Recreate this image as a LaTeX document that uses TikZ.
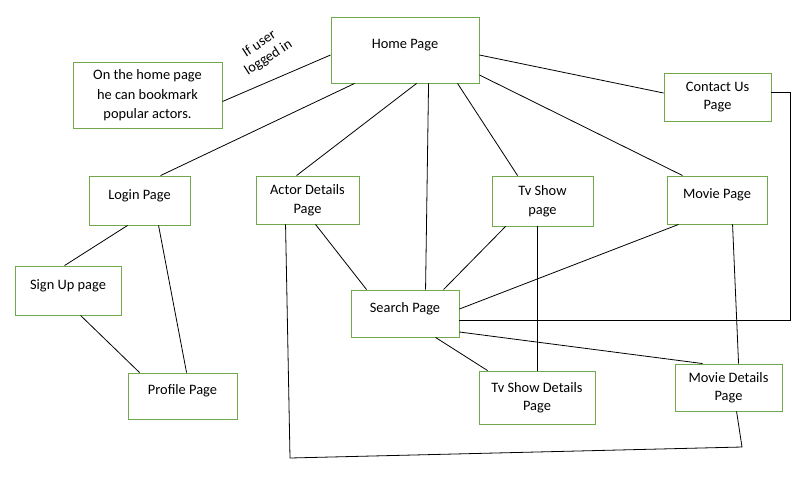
\documentclass[tikz,border=0pt]{standalone}
\usepackage{fontspec}
\setmainfont{Carlito}
\definecolor{boxgreen}{RGB}{112,168,74}

\begin{document}
\begin{tikzpicture}[x=1pt,y=-1pt,line width=0.8pt,
  every node/.style={font=\fontsize{14.4pt}{18.5pt}\selectfont},
  page/.style={draw=boxgreen,line width=0.9pt,rectangle,align=center,inner sep=0pt}]
  \useasboundingbox (0,0) rectangle (810,501);
  \node[page,minimum width=148pt,minimum height=66pt] (H) at (405,50) {Home Page\\[-12pt]\strut};
  \node[page,minimum width=149pt,minimum height=66pt] (N) at (147.5,95.5) {On the home page\\[1pt]he can bookmark\\[1pt]popular actors.};
  \node[page,minimum width=107pt,minimum height=48pt] (C) at (717.5,97) {Contact Us\\Page};
  \node[page,minimum width=101pt,minimum height=49pt] (L) at (139.5,200.5) {Login Page\\[-12pt]\strut};
  \node[page,minimum width=103pt,minimum height=48pt] (A) at (307.5,200) {Actor Details\\Page};
  \node[page,minimum width=101pt,minimum height=50pt] (T) at (542.5,201) {Tv Show\\page};
  \node[page,minimum width=100pt,minimum height=48pt] (M) at (717,200) {Movie Page\\[-12pt]\strut};
  \node[page,minimum width=106pt,minimum height=49pt] (U) at (68,290.5) {Sign Up page\\[-12pt]\strut};
  \node[page,minimum width=108pt,minimum height=47pt] (S) at (405,313.5) {Search Page\\[-12pt]\strut};
  \node[page,minimum width=109pt,minimum height=46pt] (P) at (182.5,396) {Profile Page\\[-12pt]\strut};
  \node[page,minimum width=116pt,minimum height=53pt] (TD) at (537,397.5) {Tv Show Details\\Page};
  \node[page,minimum width=107pt,minimum height=47pt] (MD) at (728.5,387.5) {Movie Details\\Page};
  \node[rotate=33,align=center,font=\fontsize{14.4pt}{16.5pt}\selectfont] (If) at (264,51) {If user\\logged in};
  % links from the home page
  \draw ([yshift=-6pt]N.east) -- ([yshift=-5pt]H.west);
  \draw ([xshift=24pt]H.south west) -- ([xshift=72pt]L.north west);
  \draw ([xshift=86pt]H.south west) -- ([xshift=41pt]A.north west);
  \draw ([xshift=98pt]H.south west) -- ([xshift=75pt]S.north west);
  \draw ([xshift=127pt]H.south west) -- ([xshift=26pt]T.north west);
  \draw ([yshift=-25pt]H.east) -- ([xshift=16pt]M.north west);
  \draw ([yshift=-5pt]H.east) -- ([yshift=4pt]C.west);
  % login branch
  \draw ([xshift=39pt]L.south west) -- ([xshift=50pt]U.north west);
  \draw ([xshift=70pt]L.south west) -- ([xshift=59pt]P.north west);
  \draw ([xshift=66pt]U.south west) -- ([xshift=12pt]P.north west);
  % search page
  \draw ([xshift=60pt]A.south west) -- ([xshift=16pt]S.north west);
  \draw ([xshift=14pt]T.south west) -- ([xshift=93pt]S.north west);
  \draw ([xshift=12pt]M.south west) -- ([yshift=4.5pt]S.east);
  \draw ([yshift=5pt]C.east) -- (790,92) coordinate (c1) -- (790,320) coordinate (c2) -- (c2 -| S.east);
  \draw ([xshift=85pt]S.south west) -- ([xshift=9pt]TD.north west);
  \draw ([yshift=-18.5pt]S.east) -- ([xshift=28pt]MD.north west);
  % details pages
  \draw ([xshift=46pt]T.south west) -- ([xshift=59pt]TD.north west);
  \draw ([xshift=66pt]M.south west) -- ([xshift=64pt]MD.north west);
  \draw ([xshift=62pt]MD.south west) -- (742,447) coordinate (d1) -- (290,458) coordinate (d2) -- ([xshift=30pt]A.south west);
\end{tikzpicture}
\end{document}
